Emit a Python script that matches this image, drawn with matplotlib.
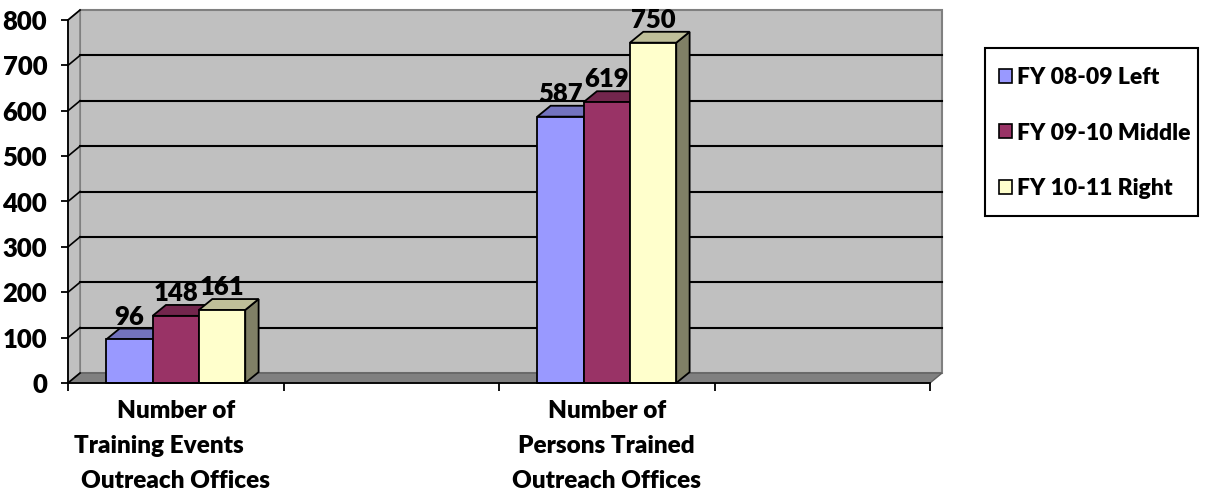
import numpy as np
import matplotlib.pyplot as plt
from matplotlib.patches import Polygon, Rectangle, Patch

plt.rcParams['font.family'] = ['Lato', 'DejaVu Sans']

# dados
categories = ["Number of\nTraining Events      \nOutreach Offices", "",
              "Number of\nPersons Trained\nOutreach Offices", ""]
series = ["FY 08-09 Left", "FY 09-10 Middle", "FY 10-11 Right"]
values = {
    "FY 08-09 Left": [96, None, 587, None],
    "FY 09-10 Middle": [148, None, 619, None],
    "FY 10-11 Right": [161, None, 750, None],
}
colors = ["#9999FF", "#993366", "#FFFFCC"]
yticks = [0, 100, 200, 300, 400, 500, 600, 700, 800]

W = "heavy"


def shade(c, f):
    rgb = np.array(plt.matplotlib.colors.to_rgb(c))
    return tuple(rgb * f)


fig = plt.figure(figsize=(12.07, 4.94), dpi=100)
ax = fig.add_axes([68 / 1207, 1 - 383 / 494, 862 / 1207, 363 / 494])

x0, x1 = -0.5, len(categories) - 0.5
ymax = 800
dx, dy = 0.056, 22  # profundidade do efeito 3D (em unidades de dados)

# parede do fundo, lateral e piso
ax.add_patch(Polygon([(x0 + dx, dy), (x1 + dx, dy), (x1 + dx, ymax + dy), (x0 + dx, ymax + dy)],
                     closed=True, facecolor="#C0C0C0", edgecolor="#808080", lw=1.5,
                     clip_on=False, zorder=0))
ax.add_patch(Polygon([(x0, 0), (x0 + dx, dy), (x0 + dx, ymax + dy), (x0, ymax)],
                     closed=True, facecolor="#C0C0C0", edgecolor="#808080", lw=1.2,
                     clip_on=False, zorder=0))
ax.add_patch(Polygon([(x0, 0), (x1, 0), (x1 + dx, dy), (x0 + dx, dy)],
                     closed=True, facecolor="#808080", edgecolor="#606060", lw=1,
                     clip_on=False, zorder=0.5))

# linhas de grade
for v in yticks[1:-1]:
    ax.plot([x0 + dx, x1 + dx], [v + dy, v + dy], color="black", lw=1.5, zorder=0.6,
            clip_on=False)
for v in yticks:
    ax.plot([x0, x0 + dx], [v, v + dy], color="black", lw=1.2, zorder=0.6, clip_on=False)

# barras com efeito 3D
w = 0.215
bdx, bdy = 0.062, 24
xs = np.arange(len(categories))
for i, (name, col) in enumerate(zip(series, colors)):
    for j, v in enumerate(values[name]):
        if v is None:
            continue
        left = xs[j] + (i - 1.5) * w
        ax.add_patch(Polygon([(left + w, 0), (left + w + bdx, bdy), (left + w + bdx, v + bdy), (left + w, v)],
                             closed=True, facecolor=shade(col, 0.5), edgecolor="black", lw=1.3,
                             zorder=2, clip_on=False))
        ax.add_patch(Polygon([(left, v), (left + w, v), (left + w + bdx, v + bdy), (left + bdx, v + bdy)],
                             closed=True, facecolor=shade(col, 0.75), edgecolor="black", lw=1.3,
                             zorder=2, clip_on=False))
        ax.add_patch(Rectangle((left, 0), w, v, facecolor=col, edgecolor="black", lw=1.3,
                               zorder=2, clip_on=False))
        ax.text(left + w / 2, v + bdy, str(v), ha="center", va="bottom",
                fontsize=18.5, fontweight=W, zorder=3)

ax.set_xlim(x0, x1)
ax.set_ylim(0, ymax)
for s in ["top", "right"]:
    ax.spines[s].set_visible(False)
ax.spines["left"].set_linewidth(1.3)
ax.spines["bottom"].set_linewidth(1.3)
ax.spines["left"].set_zorder(5)
ax.spines["bottom"].set_zorder(5)
ax.patch.set_visible(False)

ax.set_yticks(yticks)
ax.set_yticklabels([str(t) for t in yticks], fontsize=18.5, fontweight=W)
ax.tick_params(axis="y", length=5, width=1.3, pad=10)

ax.set_xticks(xs)
ax.set_xticklabels(categories, fontsize=17.5, fontweight=W, linespacing=1.72)
ax.set_xticks(np.arange(x0, x1 + 0.01, 1), minor=True)
ax.tick_params(axis="x", which="major", length=0, pad=12)
ax.tick_params(axis="x", which="minor", length=6, width=1.3)

# legenda (caixa desenhada à parte)
fig.patches.append(Rectangle((985 / 1207, 1 - 216 / 494), 213 / 1207, 168 / 494,
                             transform=fig.transFigure, facecolor="white",
                             edgecolor="black", lw=1.5, zorder=1))
handles = [Patch(facecolor=c, edgecolor="black", lw=1.2) for c in colors]
leg = fig.legend(handles, series, loc="center left",
                 bbox_to_anchor=(999 / 1207, 1 - 133 / 494),
                 bbox_transform=fig.transFigure, prop={"weight": W, "size": 16.5},
                 frameon=False, borderaxespad=0, borderpad=0, handlelength=0.55,
                 handleheight=0.55, handletextpad=0.25, labelspacing=1.5)

fig.savefig("out.png", dpi=100)
